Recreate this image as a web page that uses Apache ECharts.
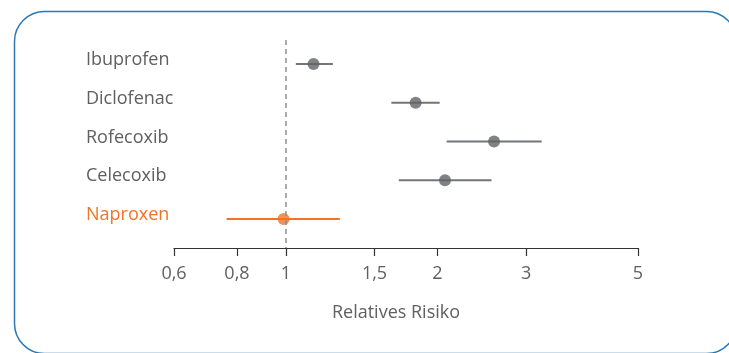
<!DOCTYPE html>
<html>
<head>
<meta charset="utf-8">
<script src="https://cdn.jsdelivr.net/npm/echarts@6/dist/echarts.min.js"></script>
<style>html,body{margin:0;padding:0;background:#fff;}#c{width:729px;height:353px;}</style>
</head>
<body>
<div id="c"></div>
<script>
const categories = ['Ibuprofen', 'Diclofenac', 'Rofecoxib', 'Celecoxib', 'Naproxen'];
const rr = [1.135, 1.81, 2.59, 2.07, 0.99];
const ciLow = [1.047, 1.62, 2.085, 1.676, 0.763];
const ciHigh = [1.24, 2.02, 3.22, 2.56, 1.28];
const tickValues = [0.6, 0.8, 1, 1.5, 2, 3, 5];
const tickLabels = ['0,6', '0,8', '1', '1,5', '2', '3', '5'];
const highlightIndex = 4;

const GRAY_TXT = '#606060';
const GRAY_DOT = '#616366';
const GRAY_LINE = '#727477';
const ORANGE = '#f07428';
const FONT = 'Open Sans';
const FS = 18;

const chart = echarts.init(document.getElementById('c'));
const lnTicks = tickValues.map(v => Math.log(v));

chart.setOption({
  animation: false,
  textStyle: { fontFamily: FONT },
  graphic: [{
    type: 'rect', left: 12, top: 9, silent: true,
    shape: { x: 0, y: 0, width: 722, height: 342, r: 30 },
    style: { fill: 'none', stroke: '#2b78b5', lineWidth: 1.5 }
  }],
  grid: { left: 174, right: 91, top: 40, bottom: 105 },
  xAxis: {
    type: 'value',
    min: Math.log(0.6), max: Math.log(5),
    splitLine: { show: false },
    axisLine: { show: true, onZero: false, lineStyle: { color: '#333', width: 1.2 } },
    axisTick: { show: true, length: 8, customValues: lnTicks, lineStyle: { color: '#333', width: 1.2 } },
    axisLabel: {
      customValues: lnTicks, margin: 17, color: GRAY_TXT, fontSize: FS, fontFamily: FONT, fontWeight: 400,
      formatter: v => {
        let best = 0;
        lnTicks.forEach((t, i) => { if (Math.abs(t - v) < Math.abs(lnTicks[best] - v)) best = i; });
        return tickLabels[best];
      }
    },
    name: 'Relatives Risiko', nameLocation: 'middle', nameGap: 56,
    nameTextStyle: { color: GRAY_TXT, fontSize: FS, fontFamily: FONT, fontWeight: 400, padding: [0, 20, 0, 0] }
  },
  yAxis: {
    type: 'value', inverse: true, min: -0.62, max: 4.75,
    splitLine: { show: false }, axisLine: { show: false }, axisTick: { show: false },
    axisLabel: {
      customValues: [0, 1, 2, 3, 4], align: 'left', margin: 88, padding: [0, 0, 8, 0],
      formatter: v => {
        const i = Math.round(v);
        return (i === highlightIndex ? '{o|' : '{g|') + categories[i] + '}';
      },
      rich: {
        g: { color: GRAY_TXT, fontSize: FS, fontFamily: FONT, fontWeight: 400 },
        o: { color: ORANGE, fontSize: FS, fontFamily: FONT, fontWeight: 400 }
      }
    }
  },
  series: [
    {
      type: 'custom',
      data: categories.map((c, i) => [Math.log(ciLow[i]), Math.log(ciHigh[i]), i]),
      renderItem: (params, api) => {
        const i = api.value(2);
        const p1 = api.coord([api.value(0), i]);
        const p2 = api.coord([api.value(1), i]);
        return {
          type: 'line',
          shape: { x1: p1[0], y1: p1[1], x2: p2[0], y2: p2[1] },
          style: { stroke: i === highlightIndex ? ORANGE : GRAY_LINE, lineWidth: 2 }
        };
      },
      markLine: {
        silent: true, symbol: 'none', label: { show: false },
        lineStyle: { color: '#8e8e8e', type: [5, 4], width: 1.5 },
        data: [{ xAxis: 0 }]
      },
      z: 2
    },
    {
      type: 'scatter',
      symbolSize: 12,
      data: categories.map((c, i) => ({
        value: [Math.log(rr[i]), i],
        itemStyle: { color: i === highlightIndex ? ORANGE : GRAY_DOT }
      })),
      z: 3
    }
  ]
});
</script>
</body>
</html>
